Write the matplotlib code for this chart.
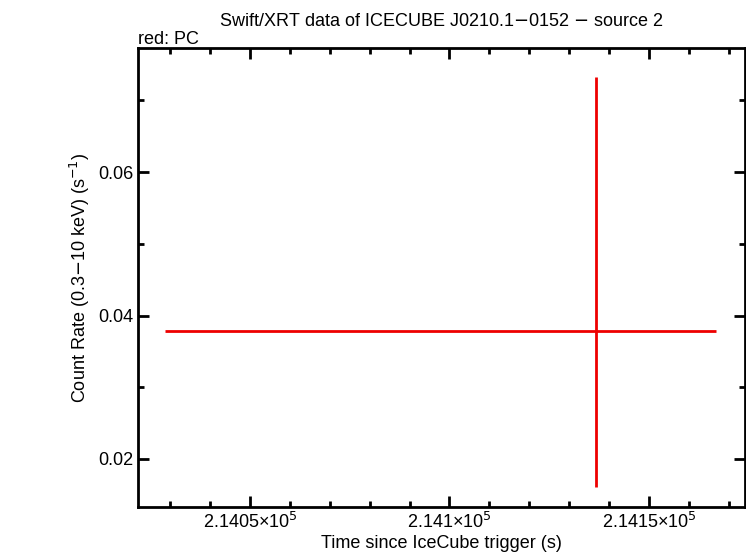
import matplotlib
matplotlib.use("Agg")
import matplotlib.pyplot as plt
from matplotlib.ticker import FixedLocator, MultipleLocator

plt.rcParams['font.family'] = ['Liberation Sans', 'DejaVu Sans']

t = [214136.8]
t_lo = [214028.7]
t_hi = [214166.9]
rate = [0.0379]
r_lo = [0.0161]
r_hi = [0.0732]

fig = plt.figure(figsize=(7.46, 5.58), dpi=100)
ax = fig.add_axes([138/746, 1-507/558, (745-138)/746, (507-48)/558])
xerr = [[t[0]-t_lo[0]], [t_hi[0]-t[0]]]
yerr = [[rate[0]-r_lo[0]], [r_hi[0]-rate[0]]]
ax.errorbar(t, rate, xerr=xerr, yerr=yerr, fmt='none', ecolor='#ee0000', elinewidth=2, capsize=0)
ax.set_xlim(214021.9, 214174.1)
ax.set_ylim(0.0133, 0.0773)
ax.xaxis.set_major_locator(FixedLocator([214050, 214100, 214150]))
ax.set_xticklabels(["2.1405×10$^5$", "2.141×10$^5$", "2.1415×10$^5$"])
ax.xaxis.set_minor_locator(MultipleLocator(10))
ax.yaxis.set_major_locator(MultipleLocator(0.02))
ax.yaxis.set_minor_locator(MultipleLocator(0.01))
ax.tick_params(which='both', direction='in', top=True, right=True, labelsize=13, width=2)
ax.tick_params(which='major', length=8)
ax.tick_params(which='minor', length=4)
for s in ax.spines.values():
    s.set_linewidth(2)
ax.set_xlabel("Time since IceCube trigger (s)", fontsize=13, labelpad=2)
ax.set_ylabel("Count Rate (0.3$-$10 keV) (s$^{-1}$)", fontsize=13)
fig.text(441/746, 1-22/558, "Swift/XRT data of ICECUBE J0210.1$-$0152 $-$ source 2", ha='center', va='center', fontsize=13)
fig.text(138/746, 1-40/558, "red: PC", ha='left', va='center', fontsize=13)
fig.savefig("out.png", dpi=100)
